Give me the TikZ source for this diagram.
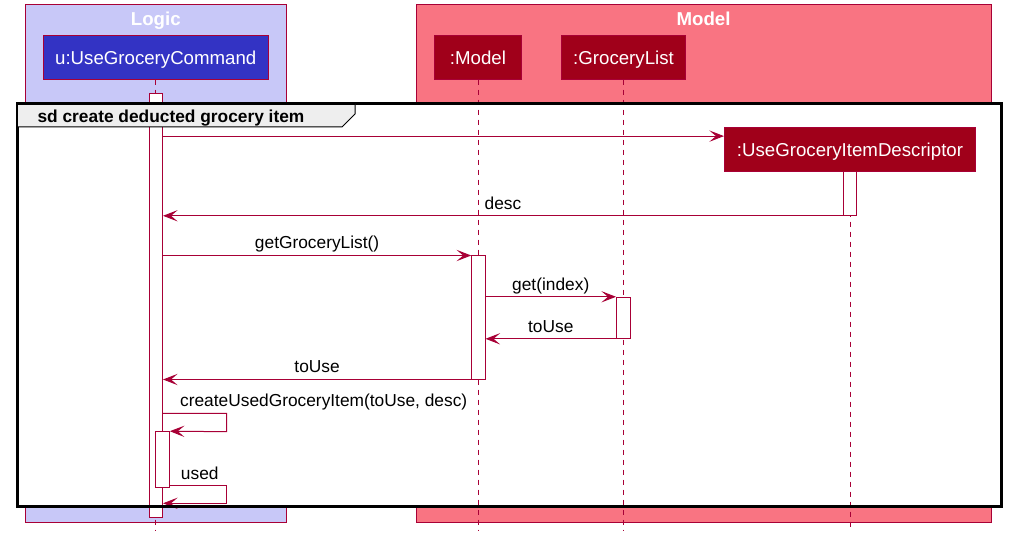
\documentclass[tikz,border=0pt]{standalone}
\usepackage{fontspec}
\setmainfont{Liberation Sans}
\usetikzlibrary{arrows.meta,fit}
\definecolor{plumline}{HTML}{A80036}
\definecolor{logicfill}{HTML}{C8C8F8}
\definecolor{modelfill}{HTML}{F97482}
\definecolor{cmdfill}{HTML}{3333C4}
\definecolor{objfill}{HTML}{A0001A}
\definecolor{tabfill}{HTML}{EEEEEE}
\begin{document}
\begin{tikzpicture}[
    x=0.75pt, y=-0.75pt,
    group/.style={draw=plumline, line width=0.75pt},
    grouptitle/.style={text=white, font=\bfseries\fontsize{14}{16}\selectfont, inner sep=0pt, anchor=base},
    actor/.style={rectangle, draw=plumline, line width=0.75pt, inner sep=0pt, minimum height=32.5pt, text depth=0pt, text=white, fill=objfill, font=\fontsize{14}{16}\selectfont},
    bar/.style={rectangle, draw=plumline, fill=white, line width=0.75pt, inner sep=0pt},
    lifeline/.style={draw=plumline, line width=0.75pt, dash pattern=on 3.75pt off 3.75pt},
    msg/.style={draw=plumline, line width=0.75pt, -{Stealth[length=11pt, width=8.5pt, inset=5pt]}},
    msglabel/.style={font=\fontsize{13}{15}\selectfont, inner sep=0pt, anchor=base, yshift=5pt}
]
    \useasboundingbox (0,0) rectangle (1014,545);

    % Groups
    \draw[group, fill=logicfill] (25,5) rectangle (286.5,522.5);
    \draw[group, fill=modelfill] (416,5) rectangle (991,522.5);
    \node[grouptitle] (logictitle) at (155.75,26) {Logic};
    \node[grouptitle] (modeltitle) at (703.5,26) {Model};

    % Frame background
    \fill[white] (17.3,103.5) rectangle (1001.3,506.7);

    % Participants
    \node[actor, fill=cmdfill, minimum width=168.4pt] (cmd) at (155.75,57.35) {u:UseGroceryCommand};
    \node[actor, minimum width=65.25pt] (model) at (478,57.35) {:Model};
    \node[actor, minimum width=93pt] (list) at (623.5,57.35) {:GroceryList};
    \node[actor, minimum width=188.25pt] (desc) at (850,149.45) {:UseGroceryItemDescriptor};

    % Lifelines
    \coordinate (cmdend) at (155.75,530);
    \coordinate (modelend) at (478,530);
    \coordinate (listend) at (623.5,530);
    \coordinate (descend) at (850,530);
    \draw[lifeline] (cmd.south) -- (cmdend);
    \draw[lifeline] (model.south) -- (modelend);
    \draw[lifeline] (list.south) -- (listend);
    \draw[lifeline] (desc.south) -- (descend);

    % Activations
    \node[bar, fit={(149,94) (162.5,517.5)}] (cmdbar) {};
    \node[bar, fit={(843.5,171.2) (856,215.3)}] (descbar) {};
    \node[bar, fit={(471.7,256) (485,379)}] (modelbar) {};
    \node[bar, fit={(616.5,297.3) (630.5,338.3)}] (listbar) {};
    \node[bar, fit={(155.5,431.7) (169.3,487.3)}] (selfbar) {};

    % Messages
    \coordinate (descin) at ([yshift=10pt]desc.west);
    \draw[msg] (cmdbar.east |- descin) -- (descin);
    \draw[msg] (descbar.south west) -- node[msglabel] {desc} (cmdbar.east |- descbar.south);
    \draw[msg] (cmdbar.east |- modelbar.north) -- node[msglabel] {getGroceryList()} (modelbar.north west);
    \draw[msg] (modelbar.east |- listbar.north) -- node[msglabel] {get(index)} (listbar.north west);
    \draw[msg] (listbar.south west) -- node[msglabel] {toUse} (modelbar.east |- listbar.south);
    \draw[msg] (modelbar.south west) -- node[msglabel] {toUse} (cmdbar.east |- modelbar.south);

    % Self calls
    \coordinate (selfa) at (226.5,413.3);
    \coordinate (selfb) at (226.5,431.7);
    \coordinate (selfc) at (226.5,485.7);
    \coordinate (selfd) at (226.5,503.3);
    \draw[msg] (cmdbar.east |- selfa) node[msglabel, anchor=base west, xshift=12.5pt] {createUsedGroceryItem(toUse, desc)}
        -- (selfa) -- (selfb) -- (selfbar.north east);
    \draw[msg] (selfbar.east |- selfc) node[msglabel, anchor=base west, xshift=8pt] {used}
        -- (selfc) -- (selfd) -- (cmdbar.east |- selfd);

    % Frame and its tab
    \draw[line width=2.25pt] (17.3,103.5) rectangle (1001.3,506.7);
    \draw[line width=0.75pt, fill=tabfill] (17.3,103.5) -- (355,103.5) -- (355,114) -- (342,127) -- (17.3,127) -- cycle;
    \draw[line width=2.25pt] (17.3,103.5) -- (355,103.5);
    \node[font=\bfseries\fontsize{13}{15}\selectfont, inner sep=0pt, anchor=base west] (sdlabel) at (37.3,122.5) {sd create deducted grocery item};
\end{tikzpicture}
\end{document}
